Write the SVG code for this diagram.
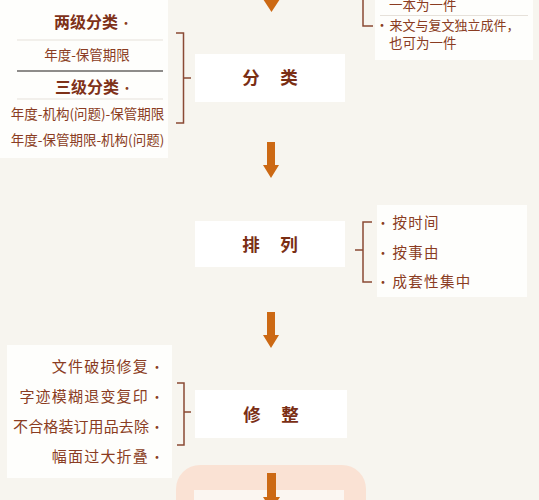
<svg xmlns="http://www.w3.org/2000/svg" width="539" height="500" viewBox="0 0 539 500">
<style>
  .bg{fill:#f7f5ef}
  .panel{fill:#fefefc}
  .box{fill:#ffffff}
  text{font-family:"Noto Sans CJK SC","Noto Sans",sans-serif;fill:#8a3c22}
  .h{font-weight:700;font-size:16px;fill:#7e3118}
  .t{font-size:13.5px}
  .r{font-size:14.5px;letter-spacing:1.3px}
  .l{font-size:15px;letter-spacing:1.2px}
  .d{font-size:13px;text-anchor:middle}
  .n{font-weight:700;font-size:17.5px;fill:#7a2e14}
  .thin{stroke:#e6e1da;stroke-width:1}
  .thick{stroke:#8e8c8a;stroke-width:2.2}
  .br{fill:none;stroke:#8a4a35;stroke-width:1.5}
  .arr{fill:#cc6914}
</style>
<rect class="bg" x="0" y="0" width="539" height="500"/>

<g id="panel-classify-options">
  <rect class="panel" x="0" y="0" width="168" height="158"/>
  <text class="h" x="86" y="28" text-anchor="middle">两级分类</text>
  <text class="d" x="126" y="28">·</text>
  <line class="thin" x1="17" y1="40" x2="163" y2="40"/>
  <text class="t" x="87" y="60" text-anchor="middle">年度-保管期限</text>
  <line class="thick" x1="17" y1="71" x2="163" y2="71"/>
  <text class="h" x="87" y="93" text-anchor="middle">三级分类</text>
  <text class="d" x="127" y="93">·</text>
  <line class="thin" x1="17" y1="99" x2="163" y2="99"/>
  <text class="t" x="87.5" y="119" text-anchor="middle">年度-机构(问题)-保管期限</text>
  <text class="t" x="87.5" y="145" text-anchor="middle">年度-保管期限-机构(问题)</text>
</g>

<g id="panel-piece-rules">
  <rect class="panel" x="375" y="0" width="158" height="60"/>
  <text class="t" x="389" y="10">一本为一件</text>
  <line class="thin" x1="380" y1="15.5" x2="528" y2="15.5"/>
  <text class="d" x="382" y="30">·</text>
  <text class="t" x="389.5" y="30" style="font-size:13px">来文与复文独立成件，</text>
  <text class="t" x="389" y="48">也可为一件</text>
</g>

<g id="node-classify">
  <rect class="box" x="195" y="54" width="150" height="48"/>
  <text class="n" x="251 270 289" y="84" text-anchor="middle">分 类</text>
</g>

<g id="node-arrange">
  <rect class="box" x="195" y="221" width="150" height="46"/>
  <text class="n" x="251 270 289" y="251" text-anchor="middle">排 列</text>
</g>

<g id="panel-arrange-options">
  <rect class="panel" x="377" y="205" width="150" height="92"/>
  <text class="d" x="383" y="228">·</text>
  <text class="d" x="383" y="258">·</text>
  <text class="d" x="383" y="287">·</text>
  <text class="r" x="392.5" y="228">按时间</text>
  <text class="r" x="392.5" y="258">按事由</text>
  <text class="r" x="392.5" y="287">成套性集中</text>
</g>

<g id="panel-repair-options">
  <rect class="panel" x="7" y="345" width="165" height="133"/>
  <text class="l" x="149" y="372" text-anchor="end">文件破损修复</text>
  <text class="l" x="149" y="402" text-anchor="end">字迹模糊退变复印</text>
  <text class="l" x="149" y="432" text-anchor="end" style="letter-spacing:0.1px">不合格装订用品去除</text>
  <text class="l" x="149" y="462" text-anchor="end">幅面过大折叠</text>
  <text class="d" x="157" y="372">·</text>
  <text class="d" x="157" y="402">·</text>
  <text class="d" x="157" y="432">·</text>
  <text class="d" x="157" y="462">·</text>
</g>

<g id="node-repair">
  <rect class="box" x="195" y="390" width="152" height="48"/>
  <text class="n" x="252 271 290" y="421" text-anchor="middle">修 整</text>
</g>

<g id="node-next">
  <rect x="176" y="465" width="190" height="70" rx="24" fill="#fae2d4"/>
  <rect x="194" y="490" width="150" height="40" fill="#fbf6f1"/>
</g>

<g id="connectors">
  <path class="arr" d="M263,-1 L280,-1 L271.5,12 Z"/>
  <path class="br" d="M373,26 H363 V0"/>
  <path class="br" d="M176,33 H183.5 V123 H176 M183.5,78 H191"/>
  <path class="arr" d="M267,142 H275 V165 H279 L271,178 L263,165 H267 Z"/>
  <path class="br" d="M372,222 H363 V282 H372 M363,250 H355"/>
  <path class="arr" d="M267,312 H275 V335 H279 L271,348 L263,335 H267 Z"/>
  <path class="br" d="M177,383 H184 V445 H177 M184,412 H191"/>
  <path class="arr" d="M267,473 H276 V497 H280 L271.5,510 L263,497 H267 Z"/>
</g>
</svg>
